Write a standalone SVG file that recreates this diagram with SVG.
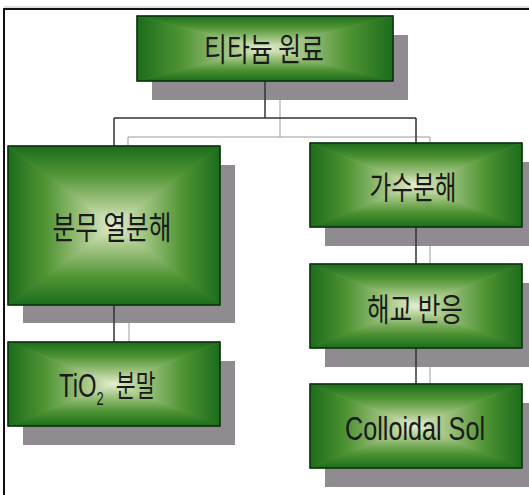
<svg xmlns="http://www.w3.org/2000/svg" width="529" height="495" viewBox="0 0 529 495">
<defs>
<linearGradient id="gT" x1="0" y1="0" x2="0" y2="1"><stop offset="0" stop-color="#1c6c1c"/><stop offset="0.35" stop-color="#4f9433"/><stop offset="0.75" stop-color="#a9c98a"/><stop offset="1" stop-color="#e4eed2"/></linearGradient>
<linearGradient id="gB" x1="0" y1="1" x2="0" y2="0"><stop offset="0" stop-color="#1c6c1c"/><stop offset="0.35" stop-color="#4f9433"/><stop offset="0.75" stop-color="#a9c98a"/><stop offset="1" stop-color="#e4eed2"/></linearGradient>
<linearGradient id="gL" x1="0" y1="0" x2="1" y2="0"><stop offset="0" stop-color="#1c6c1c"/><stop offset="0.35" stop-color="#4f9433"/><stop offset="0.75" stop-color="#a9c98a"/><stop offset="1" stop-color="#e4eed2"/></linearGradient>
<linearGradient id="gR" x1="1" y1="0" x2="0" y2="0"><stop offset="0" stop-color="#1c6c1c"/><stop offset="0.35" stop-color="#4f9433"/><stop offset="0.75" stop-color="#a9c98a"/><stop offset="1" stop-color="#e4eed2"/></linearGradient>
</defs>
<style>
.sh{fill:#8f8b90}
.bd{fill:none;stroke:#0c2e0c;stroke-width:1.5}
.pT{fill:url(#gT);stroke:url(#gT);stroke-width:0.8}
.pB{fill:url(#gB);stroke:url(#gB);stroke-width:0.8}
.pL{fill:url(#gL);stroke:url(#gL);stroke-width:0.8}
.pR{fill:url(#gR);stroke:url(#gR);stroke-width:0.8}
.t{fill:#1a1a1a;font-family:"Noto Sans CJK KR","Noto Sans",sans-serif;font-size:32px;text-anchor:middle}
.s{fill:#1a1a1a;font-family:"Noto Sans CJK KR","Noto Sans",sans-serif;font-size:30px}
.e{fill:#1a1a1a;font-family:"Liberation Sans",Arial,sans-serif;font-size:33px}
.dk{fill:none;stroke:#333;stroke-width:1.5}
.lt{fill:none;stroke:#9a9a9a;stroke-width:1}
.fr{fill:none;stroke:#111;stroke-width:2}
</style>
<rect width="529" height="495" fill="#fff"/>
<g id="frame">
<line x1="4" y1="7" x2="529" y2="7" stroke="#bbb" stroke-width="1"/>
<path class="fr" d="M4 495 V9 H529"/>
</g>
<g id="shadows">
<rect class="sh" x="152" y="35" width="256" height="65"/>
<rect class="sh" x="23" y="165" width="212" height="158"/>
<rect class="sh" x="23" y="361" width="212" height="84"/>
<rect class="sh" x="325" y="162" width="212" height="84"/>
<rect class="sh" x="325" y="283" width="212" height="84"/>
<rect class="sh" x="325" y="403" width="212" height="84"/>
</g>
<g id="connectors">
<path class="lt" d="M280 100 V137 M128 137 H430 M128 137 V146 M430 137 V143 M129 323 V342 M430 246 V264 M430 367 V384"/>
<path class="dk" d="M265 81 V118 M114 118 H416 M114 118 V146 M416 118 V143 M114 305 V342 M416 227 V264 M416 348 V384"/>
</g>
<g id="n-top">
<polygon class="pT" points="137,16 393,16 265,48.5"/>
<polygon class="pB" points="137,81 393,81 265,48.5"/>
<polygon class="pL" points="137,16 137,81 265,48.5"/>
<polygon class="pR" points="393,16 393,81 265,48.5"/>
<rect class="bd" x="137" y="16" width="256" height="65"/>
<text class="t" x="264" y="61" textLength="120" lengthAdjust="spacingAndGlyphs">티타늄 원료</text>
</g>
<g id="n-spray">
<polygon class="pT" points="8,146 220,146 114,225.5"/>
<polygon class="pB" points="8,305 220,305 114,225.5"/>
<polygon class="pL" points="8,146 8,305 114,225.5"/>
<polygon class="pR" points="220,146 220,305 114,225.5"/>
<rect class="bd" x="8" y="146" width="212" height="159"/>
<text class="t" x="112" y="239" textLength="119" lengthAdjust="spacingAndGlyphs">분무 열분해</text>
</g>
<g id="n-tio2">
<polygon class="pT" points="8,342 220,342 114,384"/>
<polygon class="pB" points="8,426 220,426 114,384"/>
<polygon class="pL" points="8,342 8,426 114,384"/>
<polygon class="pR" points="220,342 220,426 114,384"/>
<rect class="bd" x="8" y="342" width="212" height="84"/>
<text class="s" transform="translate(59 397) scale(0.72 1)"><tspan font-family="Liberation Sans, Arial, sans-serif" font-size="33">TiO</tspan><tspan font-family="Liberation Sans, Arial, sans-serif" font-size="18" dy="8">2</tspan><tspan dx="17" dy="-9">분말</tspan></text>
</g>
<g id="n-hydro">
<polygon class="pT" points="310,143 522,143 416,185"/>
<polygon class="pB" points="310,227 522,227 416,185"/>
<polygon class="pL" points="310,143 310,227 416,185"/>
<polygon class="pR" points="522,143 522,227 416,185"/>
<rect class="bd" x="310" y="143" width="212" height="84"/>
<text class="t" x="413" y="199" textLength="87" lengthAdjust="spacingAndGlyphs">가수분해</text>
</g>
<g id="n-peptize">
<polygon class="pT" points="310,264 522,264 416,306"/>
<polygon class="pB" points="310,348 522,348 416,306"/>
<polygon class="pL" points="310,264 310,348 416,306"/>
<polygon class="pR" points="522,264 522,348 416,306"/>
<rect class="bd" x="310" y="264" width="212" height="84"/>
<text class="t" x="415" y="321" textLength="96" lengthAdjust="spacingAndGlyphs">해교 반응</text>
</g>
<g id="n-sol">
<polygon class="pT" points="310,384 522,384 416,426"/>
<polygon class="pB" points="310,468 522,468 416,426"/>
<polygon class="pL" points="310,384 310,468 416,426"/>
<polygon class="pR" points="522,384 522,468 416,426"/>
<rect class="bd" x="310" y="384" width="212" height="84"/>
<text class="e" x="345" y="440" textLength="140" lengthAdjust="spacingAndGlyphs">Colloidal Sol</text>
</g>
</svg>
